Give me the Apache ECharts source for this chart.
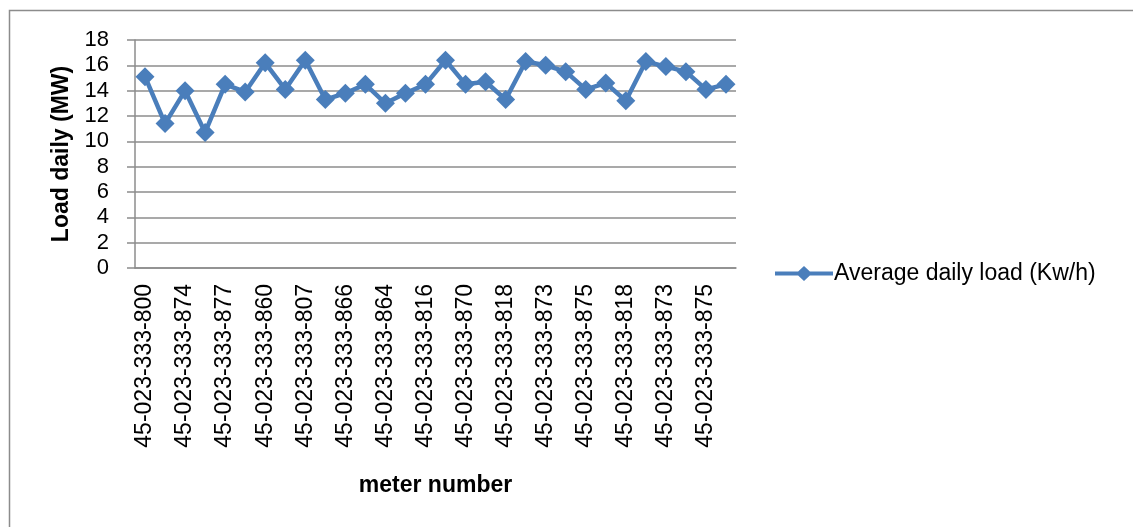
<!DOCTYPE html>
<html>
<head>
<meta charset="utf-8">
<script src="https://cdn.jsdelivr.net/npm/echarts@6/dist/echarts.min.js"></script>
<style>
  html, body { margin: 0; padding: 0; background: #fff; }
  #chart { width: 1133px; height: 527px; }
</style>
</head>
<body>
<div id="chart"></div>
<script>
// Meter numbers along the category axis (every other one is labelled)
const meters = [
  '45-023-333-800', '45-023-333-802', '45-023-333-874', '45-023-333-876',
  '45-023-333-877', '45-023-333-879', '45-023-333-860', '45-023-333-862',
  '45-023-333-807', '45-023-333-809', '45-023-333-866', '45-023-333-868',
  '45-023-333-864', '45-023-333-865', '45-023-333-816', '45-023-333-817',
  '45-023-333-870', '45-023-333-871', '45-023-333-818', '45-023-333-819',
  '45-023-333-873', '45-023-333-874', '45-023-333-875', '45-023-333-876',
  '45-023-333-818', '45-023-333-819', '45-023-333-873', '45-023-333-874',
  '45-023-333-875', '45-023-333-876'
];

// Average daily load per meter
const avgDailyLoad = [
  15.1, 11.4, 14.0, 10.7, 14.5, 13.9, 16.2, 14.1, 16.4, 13.3,
  13.8, 14.5, 13.0, 13.8, 14.5, 16.4, 14.5, 14.7, 13.3, 16.3,
  16.0, 15.5, 14.1, 14.6, 13.2, 16.3, 15.9, 15.5, 14.1, 14.5
];

const yTicks = { min: 0, max: 18, interval: 2 };
const seriesName = 'Average daily load (Kw/h)';

const FONT = '"Liberation Sans", Arial, sans-serif';
const GRID_GRAY = '#8c8c8c';
const BLUE = '#4a7ebb';

// legend glyph: thick line with a diamond in the middle
const LEGEND_ICON = 'path://M0,6.5L58,6.5L58,10.5L0,10.5Z M29,1L37,8.5L29,16L21,8.5Z';

const chart = echarts.init(document.getElementById('chart'), null, { renderer: 'canvas' });

chart.setOption({
  animation: false,
  backgroundColor: '#fff',
  graphic: [{
    type: 'rect',
    shape: { x: 9.5, y: 10.5, width: 1140, height: 540 },
    style: { fill: 'none', stroke: GRID_GRAY, lineWidth: 1.5 },
    silent: true,
    z: -10
  }],
  grid: { left: 135, right: 397, top: 40, bottom: 259, containLabel: false },
  legend: {
    show: true,
    left: 770,
    top: 257,
    itemWidth: 58,
    itemHeight: 17,
    itemGap: 0,
    textStyle: { fontFamily: FONT, fontSize: 23, color: '#000', padding: [0, 0, 0, -4] },
    data: [{ name: seriesName, icon: LEGEND_ICON, itemStyle: { color: BLUE } }]
  },
  xAxis: {
    type: 'category',
    data: meters,
    boundaryGap: true,
    name: 'meter number',
    nameLocation: 'middle',
    nameGap: 206,
    nameTextStyle: { fontFamily: FONT, fontSize: 23, fontWeight: 'bold', color: '#000' },
    axisLine: { show: true, lineStyle: { color: GRID_GRAY, width: 1.5 } },
    axisTick: { show: false },
    axisLabel: {
      interval: 1,
      rotate: 90,
      margin: 16,
      fontFamily: FONT,
      fontSize: 23,
      color: '#000'
    },
    splitLine: { show: false }
  },
  yAxis: {
    type: 'value',
    min: yTicks.min,
    max: yTicks.max,
    interval: yTicks.interval,
    name: 'Load daily (MW)',
    nameLocation: 'middle',
    nameGap: 61,
    nameRotate: 90,
    nameTextStyle: { fontFamily: FONT, fontSize: 23, fontWeight: 'bold', color: '#000' },
    axisLine: { show: true, lineStyle: { color: GRID_GRAY, width: 1.5 } },
    axisTick: { show: true, length: 8, lineStyle: { color: GRID_GRAY, width: 1.5 } },
    axisLabel: { margin: 26, fontFamily: FONT, fontSize: 22, color: '#000' },
    splitLine: { show: true, lineStyle: { color: GRID_GRAY, width: 1.5 } }
  },
  series: [{
    name: seriesName,
    type: 'line',
    data: avgDailyLoad,
    symbol: 'diamond',
    symbolSize: 19,
    showAllSymbol: true,
    lineStyle: { color: BLUE, width: 4.5 },
    itemStyle: { color: BLUE, borderWidth: 0 }
  }]
});
</script>
</body>
</html>
